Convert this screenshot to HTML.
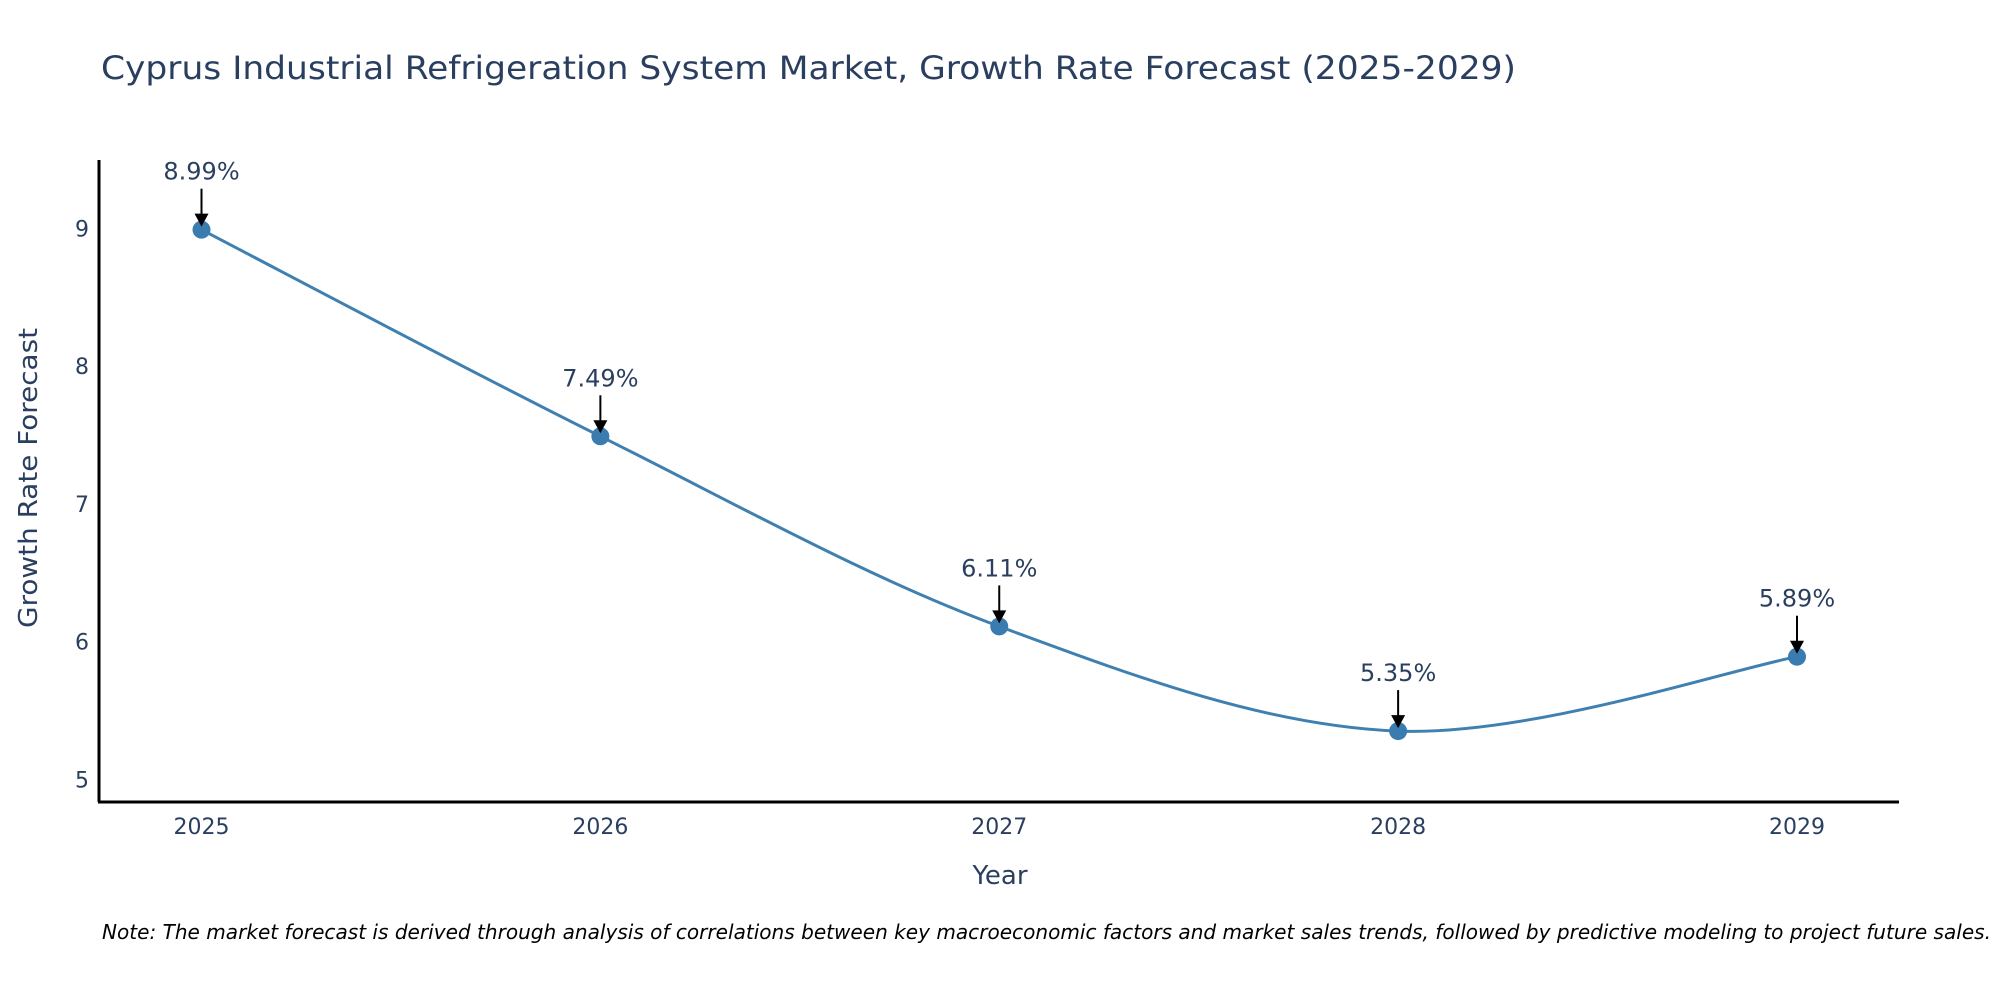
<!DOCTYPE html>
<html><head><meta charset="utf-8"><style>
body{margin:0;background:#fff;}
svg text{font-family:"DejaVu Sans","Liberation Sans",sans-serif;}
</style></head><body>
<svg id="chart" width="2000" height="1000" xmlns="http://www.w3.org/2000/svg">
<text x="101" y="79" font-size="32" fill="#2a3f5f" textLength="1415" lengthAdjust="spacingAndGlyphs">Cyprus Industrial Refrigeration System Market, Growth Rate Forecast (2025-2029)</text>
<g id="yticks"></g>
<g id="xticks"></g>
<path id="line" fill="none" stroke="#4080b0" stroke-width="3"/>
<g id="marks"></g>
<line x1="99" y1="160" x2="99" y2="802" stroke="#000" stroke-width="3"/>
<line x1="98" y1="802" x2="1899" y2="802" stroke="#000" stroke-width="3"/>
<text x="1000" y="884" font-size="26" fill="#2a3f5f" text-anchor="middle">Year</text>
<text transform="translate(37,478) rotate(-90)" font-size="26" fill="#2a3f5f" text-anchor="middle" textLength="300" lengthAdjust="spacingAndGlyphs">Growth Rate Forecast</text>
<text x="102" y="939" font-size="20" font-style="italic" fill="#000" textLength="1889" lengthAdjust="spacingAndGlyphs">Note: The market forecast is derived through analysis of correlations between key macroeconomic factors and market sales trends, followed by predictive modeling to project future sales.</text>
</svg>
<script>
const years = [2025, 2026, 2027, 2028, 2029];
const values = [8.99, 7.49, 6.11, 5.35, 5.89];
const labels = ["8.99%", "7.49%", "6.11%", "5.35%", "5.89%"];
const yTicks = [5, 6, 7, 8, 9];
const NS = "http://www.w3.org/2000/svg";
function xs(v){return 201.5 + (v-2025)*(1797-201.5)/4;}
function ys(v){return 779.3 - (v-5)*137.75;}
const yt=document.getElementById('yticks');
yTicks.forEach(t=>{
  const e=document.createElementNS(NS,'text');
  
  
  e.setAttribute('x',89);e.setAttribute('y',ys(t)+8);
  e.setAttribute('font-size','22');e.setAttribute('fill','#2a3f5f');e.setAttribute('text-anchor','end');
  e.textContent=t;yt.appendChild(e);
});
const xt=document.getElementById('xticks');
years.forEach(y=>{
  const e=document.createElementNS(NS,'text');
  
  
  e.setAttribute('x',xs(y));e.setAttribute('y',834);
  e.setAttribute('font-size','22');e.setAttribute('fill','#2a3f5f');e.setAttribute('text-anchor','middle');
  e.textContent=y;xt.appendChild(e);
});
const P=years.map((y,i)=>[xs(y),ys(values[i])]);
let d='M'+P[0][0]+','+P[0][1];
for(let i=0;i<P.length-1;i++){
  const p0=P[Math.max(0,i-1)],p1=P[i],p2=P[i+1],p3=P[Math.min(P.length-1,i+2)];
  const c1=[p1[0]+(p2[0]-p0[0])/6,p1[1]+(p2[1]-p0[1])/6];
  const c2=[p2[0]-(p3[0]-p1[0])/6,p2[1]-(p3[1]-p1[1])/6];
  d+=' C'+c1+' '+c2+' '+p2;
}
document.getElementById('line').setAttribute('d',d);
const mk=document.getElementById('marks');
P.forEach((p,i)=>{
  const c=document.createElementNS(NS,'circle');
  
  
  c.setAttribute('cx',p[0]);c.setAttribute('cy',p[1]);c.setAttribute('r',9);c.setAttribute('fill','#3a7cb0');
  mk.appendChild(c);
  const l=document.createElementNS(NS,'line');
  
  
  l.setAttribute('x1',p[0]);l.setAttribute('y1',p[1]-41);l.setAttribute('x2',p[0]);l.setAttribute('y2',p[1]-14);
  l.setAttribute('stroke','#000');l.setAttribute('stroke-width','2');
  mk.appendChild(l);
  const a=document.createElementNS(NS,'path');
  
  
  a.setAttribute('d','M'+(p[0]-7)+','+(p[1]-16)+' L'+(p[0]+7)+','+(p[1]-16)+' L'+p[0]+','+(p[1]-3)+'Z');
  a.setAttribute('fill','#000');
  mk.appendChild(a);
  const t=document.createElementNS(NS,'text');
  
  
  t.setAttribute('x',p[0]);t.setAttribute('y',p[1]-50);
  t.setAttribute('font-size','24');t.setAttribute('fill','#2a3f5f');t.setAttribute('text-anchor','middle');
  t.textContent=labels[i];mk.appendChild(t);
});
</script>
</body></html>
